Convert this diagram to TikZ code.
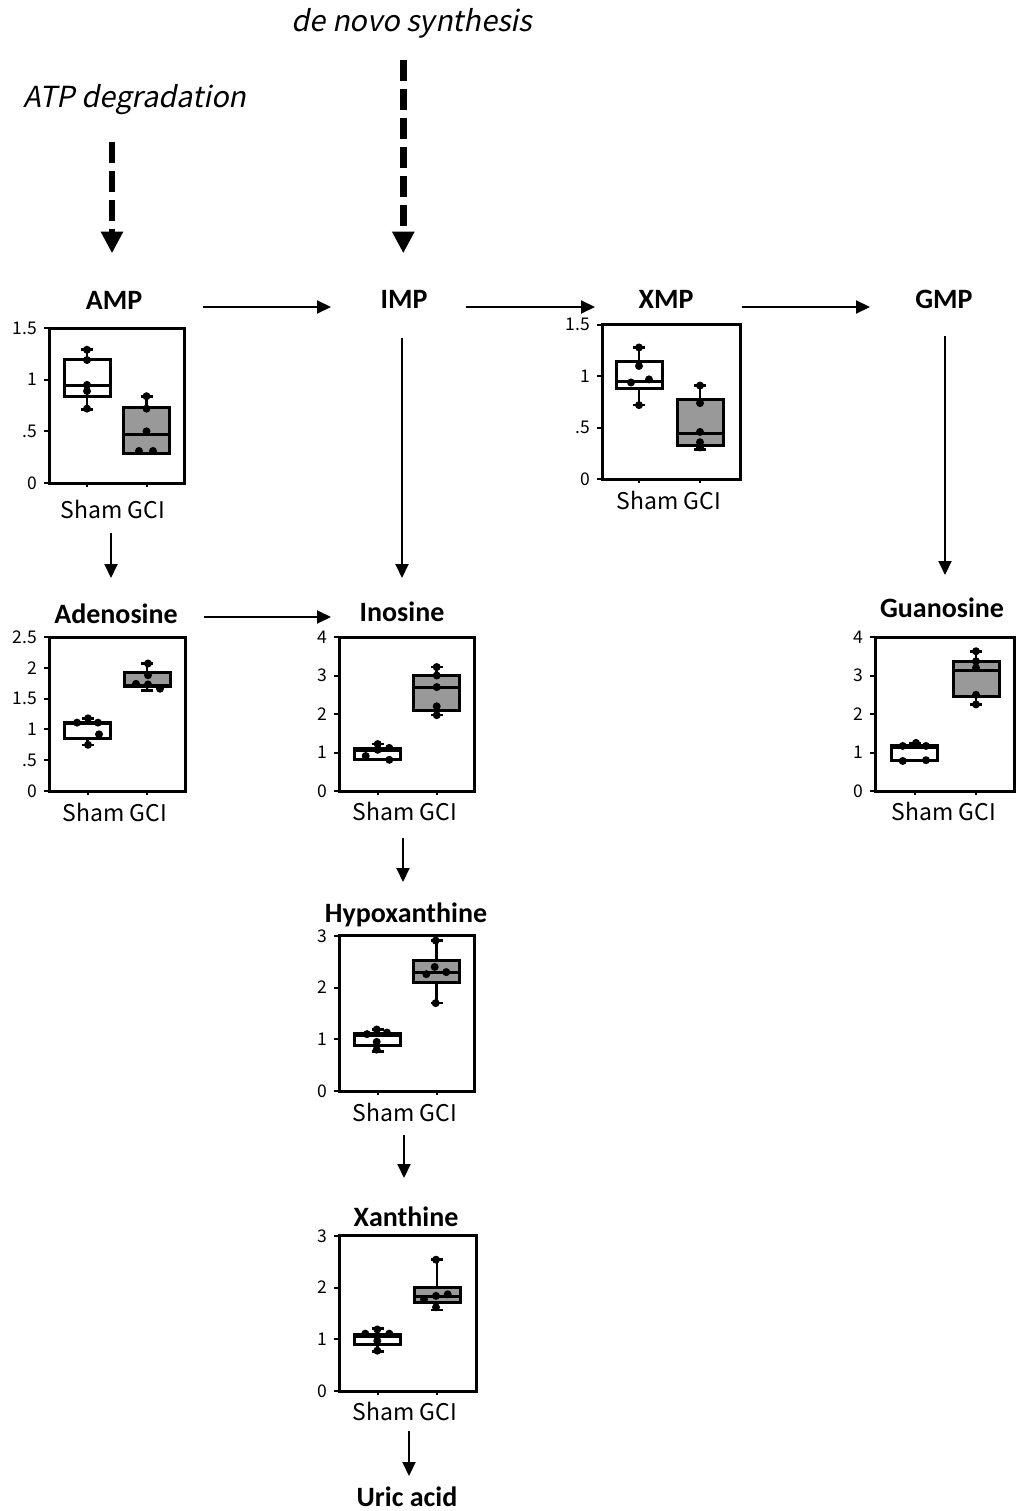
\documentclass[tikz,border=0pt]{standalone}
\usepackage{fontspec}
\usetikzlibrary{arrows.meta}
\newfontfamily\gfont{Noto Sans CJK JP}
\newfontfamily\gitfont[FakeSlant=0.2]{Noto Sans CJK JP}
\newfontfamily\labfont{Carlito}
\tikzset{
  lab/.style={font=\labfont\bfseries\fontsize{28}{30}\selectfont, inner sep=0pt},
  path/.style={font=\gitfont\fontsize{29}{32}\selectfont, inner sep=0pt},
  grp/.style={font=\gfont\fontsize{23}{26}\selectfont, inner sep=0pt},
  ticklab/.style={font=\gfont\fontsize{17.5}{19}\selectfont, inner sep=0pt, anchor=east},
  arr/.style={line width=2pt, -{Triangle[length=14pt,width=13pt]}},
  darr/.style={line width=6.7pt, dash pattern=on 21.5pt off 7.5pt, -{Triangle[length=21.6pt,width=21pt]}},
  frm/.style={line width=3pt},
  bxs/.style={line width=3pt},
  wk/.style={line width=2.6pt},
}
\definecolor{gcifill}{RGB}{153,153,153}
% box: xc, q1, med, q3, wlo, whi, fill
\newcommand\bxp[7]{%
  \draw[wk] (#1,#4) -- (#1,#6) (#1-6,#6) -- (#1+6,#6);
  \draw[wk] (#1,#2) -- (#1,#5) (#1-6,#5) -- (#1+6,#5);
  \draw[bxs,fill=#7] (#1-23,#2) rectangle (#1+23,#4);
  \draw[bxs] (#1-23,#3) -- (#1+23,#3);
}
\newcommand\dt[2]{\fill (#1,#2) ellipse [x radius=4, y radius={4/\K}];}
\newcommand\frmaxes[3]{% W, ymax, ticklist v/l
  \draw[frm] (0,0) rectangle (#1,#2);
  \foreach \v/\l in {#3} {\draw[line width=2pt] (0,\v) -- (-5,\v); \node[ticklab] at (-12,\v) {\l};}
}
\newcommand\xtk[1]{\draw[line width=2pt] (#1,0) -- ++(0,{-4/\K});}
\begin{document}
\begin{tikzpicture}[x=1pt,y=-1pt]
\useasboundingbox (0,0) rectangle (1018,1511);

% pathway source texts
\node[path] (atp) at (135,100) {ATP degradation};
\node[path] (denovo) at (412,23) {de novo synthesis};
\coordinate (atpS) at (112,141.7);
\coordinate (atpE) at (112,253.3);
\coordinate (dnS) at (403.3,60);
\coordinate (dnE) at (403.3,253.3);
\draw[darr] (atpS) -- (atpE);
\draw[darr] (dnS) -- (dnE);

% metabolite labels
\node[lab] (AMP) at (114,300) {AMP};
\node[lab] (IMP) at (404,299) {IMP};
\node[lab] (XMP) at (666,299) {XMP};
\node[lab] (GMP) at (944,299) {GMP};
\node[lab] (Ade) at (116,614) {Adenosine};
\node[lab] (Ino) at (402,612) {Inosine};
\node[lab] (Gua) at (942,608) {Guanosine};
\node[lab] (Hyp) at (406,915) {Hypoxanthine};
\node[lab] (Xan) at (406,1217) {Xanthine};
\node[lab] (Uri) at (407,1497) {Uric acid};

% arrow end points
\coordinate (a1s) at (203,307);  \coordinate (a1e) at (331,307);
\coordinate (a2s) at (466,307);  \coordinate (a2e) at (595,307);
\coordinate (a3s) at (742,307);  \coordinate (a3e) at (870,307);
\coordinate (a4s) at (111,533);  \coordinate (a4e) at (111,578);
\coordinate (a5s) at (402,338);  \coordinate (a5e) at (402,578);
\coordinate (a6s) at (945,336);  \coordinate (a6e) at (945,575);
\coordinate (a7s) at (204,617);  \coordinate (a7e) at (331,617);
\coordinate (a8s) at (403,838);  \coordinate (a8e) at (403,882);
\coordinate (a9s) at (404,1135); \coordinate (a9e) at (404,1178);
\coordinate (a10s) at (409,1431); \coordinate (a10e) at (409,1476);
\foreach \i in {1,...,10} {\draw[arr] (a\i s) -- (a\i e);}

% ---------- AMP plot ----------
\def\K{103.3}
\begin{scope}[shift={(49,483)}, yscale=-\K]
  \frmaxes{135}{1.5}{0/0,0.5/.5,1/1,1.5/1.5}
  \xtk{38}\xtk{97.5}
  \bxp{38}{0.84}{0.94}{1.20}{0.71}{1.29}{white}
  \bxp{97.5}{0.29}{0.47}{0.735}{0.29}{0.84}{gcifill}
  \dt{38}{1.29}\dt{38}{1.19}\dt{38}{0.95}\dt{38}{0.89}\dt{38}{0.72}
  \dt{97.5}{0.84}\dt{97.5}{0.72}\dt{97.5}{0.50}\dt{90}{0.31}\dt{104}{0.31}
\end{scope}
\node[grp] (ampg) at (113,509) {Sham GCI};

% ---------- XMP plot ----------
\def\K{103}
\begin{scope}[shift={(602,479.3)}, yscale=-\K]
  \frmaxes{138}{1.5}{0/0,0.5/.5,1/1,1.5/1.5}
  \xtk{37}\xtk{98}
  \bxp{37}{0.88}{0.95}{1.14}{0.72}{1.28}{white}
  \bxp{98}{0.33}{0.44}{0.77}{0.29}{0.91}{gcifill}
  \dt{37}{1.28}\dt{37}{1.10}\dt{29}{0.94}\dt{47}{0.97}\dt{37}{0.72}
  \dt{98}{0.91}\dt{98}{0.74}\dt{98}{0.46}\dt{98}{0.36}\dt{98}{0.31}
\end{scope}
\node[grp] (xmpg) at (669,500) {Sham GCI};

% ---------- Adenosine plot ----------
\def\K{61.6}
\begin{scope}[shift={(49,791)}, yscale=-\K]
  \frmaxes{136}{2.5}{0/0,0.5/.5,1/1,1.5/1.5,2/2,2.5/2.5}
  \xtk{38.5}\xtk{98}
  \bxp{38.5}{0.86}{1.09}{1.11}{0.75}{1.18}{white}
  \bxp{98}{1.69}{1.72}{1.93}{1.63}{2.07}{gcifill}
  \dt{28}{1.11}\dt{39}{1.18}\dt{49}{1.11}\dt{50}{0.92}\dt{39}{0.75}
  \dt{99}{2.07}\dt{99}{1.88}\dt{87}{1.74}\dt{99}{1.73}\dt{111}{1.66}
\end{scope}
\node[grp] (adeg) at (115,812) {Sham GCI};

% ---------- Inosine plot ----------
\def\K{38.5}
\begin{scope}[shift={(339,791)}, yscale=-\K]
  \frmaxes{135}{4}{0/0,1/1,2/2,3/3,4/4}
  \xtk{38.7}\xtk{97.7}
  \bxp{38.7}{0.81}{1.06}{1.11}{0.81}{1.22}{white}
  \bxp{97.7}{2.08}{2.7}{3.0}{1.97}{3.22}{gcifill}
  \dt{26.7}{0.91}\dt{38.7}{1.22}\dt{50.3}{1.12}\dt{50.3}{0.81}\dt{38.7}{1.07}
  \dt{97.7}{3.22}\dt{97.7}{3.0}\dt{97.7}{2.7}\dt{97.7}{2.2}\dt{97.7}{1.97}
\end{scope}
\node[grp] (inog) at (405,811) {Sham GCI};

% ---------- Guanosine plot ----------
\def\K{38.5}
\begin{scope}[shift={(875,791)}, yscale=-\K]
  \frmaxes{139}{4}{0/0,1/1,2/2,3/3,4/4}
  \xtk{39.7}\xtk{101}
  \bxp{39.7}{0.78}{1.12}{1.17}{0.78}{1.25}{white}
  \bxp{101}{2.45}{3.14}{3.37}{2.25}{3.63}{gcifill}
  \dt{27.7}{0.78}\dt{27.7}{1.17}\dt{41}{1.25}\dt{51}{1.17}\dt{51}{0.80}
  \dt{101}{3.63}\dt{101}{3.37}\dt{101}{3.2}\dt{101}{2.5}\dt{101}{2.25}
\end{scope}
\node[grp] (guag) at (944,811) {Sham GCI};

% ---------- Hypoxanthine plot ----------
\def\K{51.7}
\begin{scope}[shift={(339,1091)}, yscale=-\K]
  \frmaxes{135}{3}{0/0,1/1,2/2,3/3}
  \xtk{38.7}\xtk{97.7}
  \bxp{38.7}{0.88}{1.07}{1.11}{0.77}{1.19}{white}
  \bxp{97.7}{2.1}{2.3}{2.53}{1.70}{2.91}{gcifill}
  \dt{37.7}{1.19}\dt{48}{1.13}\dt{37.7}{0.95}\dt{37.7}{0.8}\dt{28}{1.1}
  \dt{96.7}{2.91}\dt{95.7}{2.40}\dt{87.3}{2.26}\dt{107.3}{2.3}\dt{96.7}{1.70}
\end{scope}
\node[grp] (hypg) at (405,1112) {Sham GCI};

% ---------- Xanthine plot ----------
\def\K{51.7}
\begin{scope}[shift={(339,1391)}, yscale=-\K]
  \frmaxes{137}{3}{0/0,1/1,2/2,3/3}
  \xtk{38.7}\xtk{98}
  \bxp{38.7}{0.90}{1.06}{1.10}{0.77}{1.21}{white}
  \bxp{98}{1.71}{1.82}{2.01}{1.57}{2.54}{gcifill}
  \dt{26.3}{1.11}\dt{38.3}{1.19}\dt{50.3}{1.11}\dt{38.3}{0.97}\dt{38.3}{0.78}
  \dt{97}{2.54}\dt{85}{1.77}\dt{97}{1.84}\dt{108.7}{1.87}\dt{97}{1.62}
\end{scope}
\node[grp] (xang) at (405,1411) {Sham GCI};

\end{tikzpicture}
\end{document}
